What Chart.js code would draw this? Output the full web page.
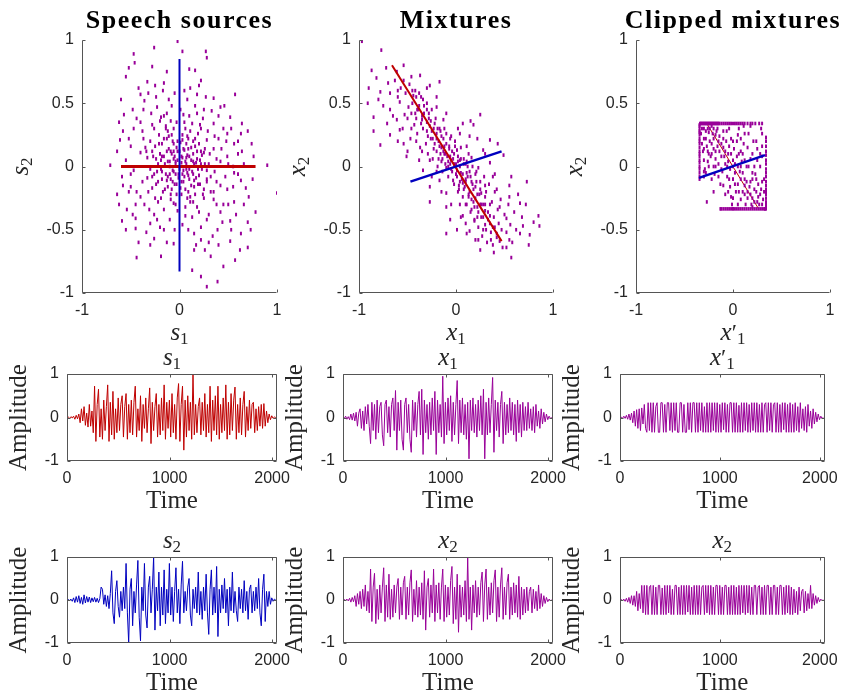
<!DOCTYPE html>
<html>
<head>
<meta charset="utf-8">
<script src="https://cdn.jsdelivr.net/npm/chart.js@4.4.1/dist/chart.umd.min.js"></script>
<style>
html, body { margin: 0; padding: 0; background: #fff; }
#fig { position: relative; width: 846px; height: 693px; }
#fig canvas { position: absolute; left: 0; top: 0; }
</style>
</head>
<body>
<div id="fig"></div>
<script>
// ---- scatter data ----
var srcCloud = [
[-0.02,0.99],[-0.47,0.89],[-0.26,0.94],[0.03,0.91],[0.27,0.91],[0.28,0.86],[-0.52,0.78],[-0.46,0.82],[-0.28,0.79],[-0.13,0.75],
[0.10,0.77],[0.16,0.76],[-0.55,0.71],[-0.33,0.67],[-0.16,0.66],[0.22,0.68],[0.11,0.62],[-0.25,0.64],[-0.40,0.57],[0.18,0.57],
[0.57,0.57],[-0.60,0.53],[-0.11,0.53],[0.08,0.53],[0.35,0.54],[0.42,0.47],[-0.23,0.47],[-0.37,0.45],[0.25,0.45],[-0.57,0.41],
[0.52,0.39],[0.64,0.34],[-0.19,0.39],[0.04,0.41],[-0.28,0.33],[-0.47,0.30],[0.21,0.33],[0.35,0.34],[-0.06,0.30],[0.11,0.28],
[0.49,0.26],[0.63,0.26],[-0.61,0.21],[-0.37,0.22],[-0.13,0.22],[0.03,0.21],[0.28,0.21],[0.40,0.22],[0.56,0.18],[0.74,0.18],
[-0.50,0.16],[-0.25,0.16],[0.16,0.16],[0.35,0.14],[0.64,0.12],[-0.64,0.12],[-0.40,0.11],[-0.09,0.12],[0.08,0.09],[0.25,0.11],
[0.49,0.08],[-0.33,0.07],[-0.19,0.05],[-0.02,0.05],[0.18,0.06],[0.42,0.04],[0.76,0.08],[-0.71,0.01],[0.90,0.01],[-0.47,-0.03],
[-0.23,-0.04],[-0.06,-0.04],[0.08,-0.05],[0.28,-0.03],[0.56,-0.05],[-0.59,-0.08],[-0.33,-0.09],[-0.13,-0.11],[0.15,-0.11],[0.38,-0.12],
[0.63,-0.11],[-0.50,-0.16],[-0.28,-0.17],[0.01,-0.17],[0.25,-0.18],[0.49,-0.18],[0.68,-0.17],[1.0,-0.21],[-0.64,-0.22],[-0.40,-0.24],
[-0.19,-0.25],[0.08,-0.25],[0.35,-0.26],[0.56,-0.28],[0.71,-0.24],[-0.54,-0.34],[-0.31,-0.34],[-0.06,-0.29],[0.18,-0.32],[0.42,-0.36],
[0.78,-0.36],[-0.45,-0.41],[-0.23,-0.42],[0.06,-0.39],[0.28,-0.42],[0.52,-0.43],[-0.59,-0.43],[-0.45,-0.49],[-0.16,-0.50],[0.15,-0.53],
[0.39,-0.50],[0.63,-0.53],[0.73,-0.50],[-0.26,-0.57],[-0.06,-0.61],[0.22,-0.58],[0.52,-0.59],[0.70,-0.64],[-0.44,-0.72],[-0.19,-0.71],
[0.15,-0.66],[0.32,-0.71],[0.57,-0.74],[0.13,-0.82],[0.45,-0.79],[0.22,-0.87],[0.39,-0.91],[0.28,-0.95],
[0.02,0.03],[-0.05,0.08],[0.10,-0.02],[-0.10,-0.06],[0.05,-0.08],[-0.03,0.15],[0.14,0.10],[-0.15,0.02],[0.07,0.18],[-0.08,-0.18],
[0.20,-0.07],[-0.20,0.10],[0.00,-0.02],[0.03,0.25],[-0.12,0.28],[0.12,-0.15],[0.30,0.02],[-0.30,-0.02],[0.22,0.30],[-0.25,-0.25],
[0.35,-0.20],[-0.40,0.35],[0.45,0.30],[-0.45,-0.30],[0.55,0.00],[-0.55,0.05],[-0.04,-0.06],[0.06,0.04],[-0.12,0.04],[0.15,0.02],
[-0.07,0.20],[0.09,-0.20],[-0.18,-0.10],[0.21,0.05],[-0.35,0.15],[0.32,-0.08],[-0.02,-0.35],[0.05,0.35],[-0.16,0.40],[0.18,0.42],
[-0.30,-0.45],[0.30,-0.60],[-0.08,0.48],[0.45,-0.30],[-0.52,-0.20],[0.60,0.20],
[-0.62,0.35],[-0.58,0.28],[-0.52,0.22],[-0.48,0.45],[-0.44,0.38],[-0.42,0.62],[-0.38,0.28],[-0.36,0.52],[-0.34,0.12],[-0.32,0.58],
[-0.30,0.20],[-0.29,0.42],[-0.27,0.08],[-0.26,0.30],[-0.24,0.55],[-0.22,0.02],[-0.21,0.25],[-0.20,0.36],[-0.18,0.18],[-0.17,0.60],
[-0.16,0.08],[-0.14,0.32],[-0.13,0.42],[-0.11,0.14],[-0.10,0.04],[-0.09,0.36],[-0.08,0.25],[-0.06,0.12],[-0.05,0.58],[-0.04,0.02],
[-0.03,0.35],[-0.02,0.20],[0.00,0.12],[0.01,0.45],[0.02,0.08],[0.04,0.14],[0.05,0.60],[0.06,0.30],[0.07,0.07],[0.09,0.22],
[0.10,0.40],[0.12,0.05],[0.13,0.34],[0.14,0.20],[0.16,0.48],[0.17,0.03],[0.19,0.26],[0.20,0.64],[0.22,0.12],[0.24,0.38],
[0.26,0.02],[0.27,0.55],[0.29,0.28],[0.31,0.10],[0.33,0.44],[0.36,0.24],[0.38,0.06],[0.40,0.40],[0.43,0.14],[0.46,0.48],
[0.48,0.20],[0.50,0.02],[0.53,0.30],[0.60,0.10],[0.66,0.02],[0.70,0.28],
[-0.62,-0.30],[-0.58,-0.15],[-0.55,-0.50],[-0.50,-0.06],[-0.48,-0.38],[-0.44,-0.20],[-0.42,-0.60],[-0.38,-0.12],[-0.36,-0.30],[-0.34,-0.52],
[-0.32,-0.20],[-0.30,-0.62],[-0.28,-0.08],[-0.26,-0.38],[-0.24,-0.14],[-0.22,-0.28],[-0.20,-0.48],[-0.18,-0.04],[-0.16,-0.34],[-0.15,-0.18],
[-0.13,-0.60],[-0.12,-0.08],[-0.10,-0.42],[-0.09,-0.26],[-0.07,-0.12],[-0.05,-0.50],[-0.04,-0.30],[-0.03,-0.14],[-0.01,-0.06],[0.02,-0.22],
[0.03,-0.46],[0.04,-0.12],[0.06,-0.32],[0.07,-0.02],[0.09,-0.50],[0.10,-0.10],[0.11,-0.28],[0.13,-0.40],[0.14,-0.06],[0.16,-0.22],
[0.17,-0.62],[0.19,-0.14],[0.20,-0.36],[0.22,-0.48],[0.23,-0.02],[0.25,-0.25],[0.26,-0.66],[0.28,-0.10],[0.30,-0.38],[0.32,-0.20],
[0.34,-0.55],[0.36,-0.04],[0.38,-0.30],[0.40,-0.62],[0.42,-0.15],[0.44,-0.44],[0.47,-0.08],[0.50,-0.30],[0.53,-0.50],[0.55,-0.16],
[0.58,-0.38],[0.60,-0.06],[0.62,-0.66],[0.66,-0.30],[0.70,-0.44],[0.75,-0.10],
[-0.24,0.06],[-0.22,-0.12],[-0.21,0.18],[-0.19,-0.02],[-0.18,0.08],[-0.17,-0.20],[-0.16,0.22],[-0.14,-0.06],[-0.13,0.12],[-0.12,-0.16],
[-0.11,0.24],[-0.10,0.00],[-0.09,-0.10],[-0.08,0.10],[-0.07,-0.03],[-0.06,0.18],[-0.05,-0.14],[-0.04,0.04],[-0.03,-0.22],[-0.02,0.12],
[-0.01,-0.09],[0.01,0.19],[0.02,-0.12],[0.03,0.07],[0.04,-0.03],[0.05,0.13],[0.06,-0.18],[0.07,0.02],[0.08,0.24],[0.09,-0.07],
[0.10,0.08],[0.11,-0.24],[0.12,0.15],[0.13,-0.04],[0.14,0.04],[0.15,-0.16],[0.16,0.22],[0.17,-0.09],[0.18,0.12],[0.19,-0.02],
[0.20,0.18],[0.21,-0.14],[0.22,0.02],[0.23,0.09],[0.24,-0.22],[-0.26,-0.06],[0.26,0.14],[-0.28,0.12],[0.28,-0.12],[0.03,-0.06],
[-0.06,0.06],[0.09,0.14],[-0.09,-0.22],[0.14,-0.28],[-0.14,0.30]
];
var srcRed = [[-0.60,0],[0.78,0]];
var srcBlue = [[0,-0.83],[0,0.85]];

var mixCloud = [
[-0.97,0.99],[-0.77,0.92],[-0.87,0.76],[-0.54,0.80],[-0.61,0.75],[-0.90,0.62],[-0.78,0.59],[-0.70,0.66],[-0.54,0.68],[-0.46,0.71],
[-0.37,0.72],[-0.27,0.64],[-0.17,0.67],[-0.91,0.50],[-0.80,0.53],[-0.68,0.45],[-0.58,0.51],[-0.49,0.47],[-0.41,0.55],[-0.34,0.53],
[-0.85,0.39],[-0.71,0.34],[-0.61,0.37],[-0.53,0.41],[-0.42,0.42],[-0.30,0.45],[-0.20,0.47],[-0.85,0.28],[-0.68,0.25],[-0.58,0.29],
[-0.46,0.30],[-0.35,0.37],[-0.27,0.32],[-0.13,0.37],[0.07,0.34],[0.25,0.41],[0.18,0.33],[-0.78,0.17],[-0.54,0.18],[-0.41,0.20],
[-0.29,0.24],[-0.20,0.26],[-0.06,0.22],[0.04,0.26],[0.14,0.24],[0.35,0.21],[-0.51,0.08],[-0.35,0.12],[-0.23,0.14],[-0.12,0.16],
[0.01,0.13],[0.11,0.16],[0.28,0.13],[0.43,0.18],[-0.27,0.05],[-0.15,0.04],[-0.06,0.08],[0.04,0.05],[0.16,0.07],[0.35,0.03],
[0.49,0.09],[-0.34,-0.03],[-0.20,-0.04],[-0.10,-0.01],[0.01,-0.03],[0.11,-0.05],[0.23,-0.01],[-0.27,-0.16],[-0.17,-0.11],[-0.03,-0.11],
[0.07,-0.13],[0.21,-0.12],[0.38,-0.08],[0.57,-0.08],[0.73,-0.12],[-0.27,-0.28],[-0.10,-0.21],[0.02,-0.20],[0.13,-0.24],[0.26,-0.21],
[0.42,-0.18],[0.55,-0.24],[-0.10,-0.32],[0.04,-0.30],[0.16,-0.34],[0.30,-0.30],[0.45,-0.32],[0.66,-0.29],[-0.06,-0.42],[0.07,-0.39],
[0.19,-0.43],[0.35,-0.39],[0.52,-0.41],[0.69,-0.47],[0.85,-0.39],[0.86,-0.47],[0.14,-0.51],[0.28,-0.50],[0.42,-0.53],[0.66,-0.53],
[0.76,-0.54],[0.23,-0.58],[0.45,-0.59],[0.55,-0.58],[0.25,-0.66],[0.39,-0.68],[0.57,-0.72],[0.01,-0.50],[-0.10,-0.53],[0.11,-0.53],
[-0.05,0.05],[0.05,-0.05],[-0.15,0.15],[0.10,-0.12],[-0.20,0.22],[0.20,-0.25],[-0.30,0.35],[0.30,-0.35],[0.00,0.02],[-0.08,0.00],
[0.08,0.02],[-0.12,0.10],[0.15,-0.08],[0.25,-0.30],[0.35,-0.45],[0.40,-0.48],[-0.40,0.45],[-0.35,0.40],[0.03,-0.15],[-0.02,0.10],
[0.12,0.00],[-0.18,0.06],[0.18,-0.18],[0.22,-0.40],[-0.25,0.28],[-0.45,0.60],[-0.60,0.60],[-0.38,0.48],[0.30,-0.15],[0.10,-0.30],
[-0.82,0.70],[-0.75,0.48],[-0.72,0.78],[-0.68,0.58],[-0.65,0.40],[-0.63,0.68],[-0.60,0.55],[-0.57,0.62],[-0.55,0.30],[-0.52,0.58],
[-0.50,0.38],[-0.48,0.65],[-0.47,0.22],[-0.45,0.50],[-0.43,0.33],[-0.42,0.60],[-0.40,0.26],[-0.39,0.45],[-0.37,0.15],[-0.36,0.55],
[-0.34,0.30],[-0.33,0.42],[-0.31,0.18],[-0.30,0.50],[-0.29,0.10],[-0.28,0.38],[-0.26,0.22],[-0.25,0.45],[-0.24,0.06],[-0.23,0.30],
[-0.22,0.18],[-0.21,0.38],[-0.19,0.00],[-0.18,0.20],[-0.17,0.30],[-0.16,0.10],[-0.15,0.24],[-0.14,-0.04],[-0.13,0.12],[-0.12,0.30],
[-0.11,0.02],[-0.10,0.18],[-0.09,0.08],[-0.08,-0.08],[-0.07,0.14],[-0.06,0.02],[-0.05,0.24],[-0.04,-0.04],[-0.03,0.06],[-0.02,-0.14],
[-0.01,0.16],[0.00,-0.06],[0.02,0.08],[0.03,-0.18],[0.04,0.00],[0.05,0.15],[0.06,-0.10],[0.07,-0.24],[0.08,0.06],[0.09,-0.16],
[0.10,0.02],[0.11,-0.30],[0.12,-0.08],[0.13,0.10],[0.14,-0.20],[0.15,-0.36],[0.16,-0.12],[0.17,0.00],[0.18,-0.28],[0.19,-0.42],
[0.20,-0.16],[0.21,-0.04],[0.22,-0.32],[0.23,-0.48],[0.24,-0.22],[0.25,-0.12],[0.26,-0.40],[0.27,-0.55],[0.28,-0.30],[0.29,-0.08],
[0.30,-0.46],[0.31,-0.20],[0.32,-0.60],[0.33,-0.36],[0.34,-0.14],[0.36,-0.52],[0.37,-0.28],[0.38,-0.62],[0.39,-0.40],[0.40,-0.20],
[0.42,-0.56],[0.43,-0.34],[0.44,-0.45],[0.46,-0.26],[0.47,-0.50],[0.48,-0.64],[0.50,-0.38],[0.52,-0.52],[0.54,-0.30],[0.56,-0.46],
[0.58,-0.60],[0.60,-0.36],[0.62,-0.50],[0.64,-0.22],[0.68,-0.40],[0.72,-0.30],[0.75,-0.62],[0.80,-0.44],
[-0.30,0.62],[-0.20,0.55],[-0.10,0.42],[0.02,0.30],[0.15,0.36],[0.22,0.22],[0.30,0.10],[0.40,-0.06],[0.55,-0.15],[-0.60,0.20],
[-0.50,0.12],[-0.38,0.05],[-0.25,-0.08],[-0.15,-0.20],[-0.05,-0.30],[0.05,-0.40],[0.10,-0.45],[0.20,-0.58],
[-0.30,0.28],[-0.28,0.42],[-0.26,0.36],[-0.24,0.22],[-0.22,0.34],[-0.20,0.12],[-0.19,0.30],[-0.17,0.16],[-0.16,0.28],[-0.14,0.06],
[-0.13,0.22],[-0.11,0.10],[-0.10,0.26],[-0.08,0.04],[-0.07,0.16],[-0.05,-0.02],[-0.04,0.12],[-0.02,0.02],[-0.01,0.20],[0.01,-0.08],
[0.02,0.04],[0.04,-0.12],[0.05,0.06],[0.07,-0.06],[0.08,-0.18],[0.10,-0.10],[0.11,0.04],[0.13,-0.22],[0.14,-0.04],[0.16,-0.26],
[0.17,-0.14],[0.19,-0.32],[0.20,-0.06],[0.22,-0.22],[0.23,-0.36],[0.25,-0.18],[0.26,-0.30],[0.28,-0.40],[0.30,-0.24],[0.31,-0.50],
[0.33,-0.42],[0.35,-0.30],[0.36,-0.58],[0.38,-0.48],[-0.33,0.48],[-0.36,0.34],[-0.38,0.58],[-0.41,0.38],[-0.44,0.56],[-0.46,0.42]
];
var mixRed = [[-0.66,0.80],[0.47,-0.59]];
var mixRedTail = [[0.52,-0.64]];
var mixBlue = [[-0.47,-0.12],[0.47,0.12]];

var clipCloud = [
[-0.34,0.34],[-0.32,0.34],[-0.30,0.34],[-0.28,0.34],[-0.25,0.34],[-0.22,0.34],[-0.20,0.34],[-0.17,0.34],[-0.14,0.34],[-0.10,0.34],
[-0.06,0.34],[-0.02,0.34],[0.02,0.34],[0.06,0.34],[0.10,0.34],[0.15,0.34],[0.20,0.34],[0.27,0.34],
[-0.33,0.34],[-0.31,0.34],[-0.29,0.34],[-0.27,0.34],[-0.26,0.34],[-0.24,0.34],[-0.23,0.34],[-0.21,0.34],[-0.19,0.34],[-0.18,0.34],
[-0.16,0.34],[-0.15,0.34],[-0.12,0.34],[-0.08,0.34],[-0.04,0.34],[0.00,0.34],[0.04,0.34],[0.08,0.34],[0.12,0.34],[0.18,0.34],
[0.23,0.34],[0.30,0.34],
[-0.345,0.30],[-0.345,0.25],[-0.345,0.20],[-0.345,0.15],[-0.345,0.10],[-0.345,0.05],[-0.345,0.00],[-0.345,-0.05],[-0.345,-0.08],
[-0.345,0.33],[-0.345,0.32],[-0.345,0.28],[-0.345,0.27],[-0.345,0.22],[-0.345,0.18],[-0.345,0.12],[-0.345,0.08],[-0.345,0.03],
[-0.345,-0.02],[-0.345,-0.10],
[-0.13,-0.335],[-0.10,-0.335],[-0.06,-0.335],[-0.02,-0.335],[0.02,-0.335],[0.06,-0.335],[0.10,-0.335],[0.14,-0.335],[0.18,-0.335],
[0.22,-0.335],[0.26,-0.335],[0.30,-0.335],[0.34,-0.335],[-0.12,-0.335],[-0.08,-0.335],[-0.04,-0.335],[0.00,-0.335],[0.04,-0.335],
[0.08,-0.335],[0.12,-0.335],[0.16,-0.335],[0.20,-0.335],[0.24,-0.335],[0.28,-0.335],[0.32,-0.335],[0.33,-0.335],
[0.34,0.20],[0.34,0.12],[0.34,0.05],[0.34,-0.02],[0.34,-0.08],[0.34,-0.15],[0.34,-0.20],[0.34,-0.25],[0.34,-0.30],
[0.34,0.23],[0.34,0.16],[0.34,0.09],[0.34,0.02],[0.34,-0.05],[0.34,-0.12],[0.34,-0.18],[0.34,-0.22],[0.34,-0.28],[0.34,-0.32],
[-0.30,0.30],[-0.28,0.22],[-0.25,0.27],[-0.22,0.18],[-0.20,0.30],[-0.18,0.12],[-0.15,0.20],[-0.12,0.08],[-0.10,0.15],[-0.08,0.02],
[-0.05,0.10],[-0.03,-0.02],[0.00,0.05],[0.02,-0.05],[0.05,0.00],[0.08,-0.10],[0.10,-0.05],[0.12,-0.15],[0.15,-0.20],[0.18,-0.12],
[0.20,-0.25],[0.22,-0.18],[0.25,-0.28],[0.28,-0.22],[0.30,-0.30],[-0.30,0.05],[-0.25,0.10],[-0.28,-0.05],[-0.20,0.00],[-0.15,-0.08],
[-0.10,-0.15],[-0.05,-0.20],[0.00,-0.25],[0.00,0.20],[0.05,0.25],[0.11,0.32],[0.15,0.15],[0.20,0.10],[0.25,0.05],[0.24,0.20],
[0.30,0.16],[0.08,0.12],[-0.27,-0.28],[0.05,-0.30],[-0.065,0.28],[-0.22,-0.10],[-0.32,0.18],[-0.18,0.25],[0.12,0.05],[0.20,-0.05],
[-0.33,0.26],[-0.31,0.12],[-0.30,0.22],[-0.29,-0.02],[-0.27,0.16],[-0.26,0.30],[-0.25,0.00],[-0.24,0.20],[-0.23,0.08],[-0.22,0.32],
[-0.21,0.26],[-0.20,0.14],[-0.19,-0.06],[-0.18,0.06],[-0.17,0.28],[-0.16,0.16],[-0.15,0.02],[-0.14,0.24],[-0.13,-0.14],[-0.12,0.18],
[-0.11,-0.04],[-0.10,0.28],[-0.09,0.08],[-0.08,-0.22],[-0.07,0.20],[-0.06,-0.08],[-0.05,0.04],[-0.04,0.16],[-0.03,-0.16],[-0.02,0.10],
[-0.01,-0.30],[0.00,-0.10],[0.01,0.14],[0.02,0.02],[0.03,-0.20],[0.04,0.08],[0.05,-0.14],[0.06,0.30],[0.07,-0.04],[0.08,-0.26],
[0.09,0.04],[0.10,-0.20],[0.11,0.18],[0.12,-0.10],[0.13,-0.30],[0.14,0.00],[0.15,-0.25],[0.16,0.26],[0.17,-0.16],[0.18,0.06],
[0.19,-0.30],[0.20,-0.10],[0.21,0.20],[0.22,-0.28],[0.23,-0.06],[0.24,-0.20],[0.25,0.14],[0.26,-0.14],[0.27,-0.30],[0.28,0.00],
[0.29,-0.18],[0.30,0.08],[0.31,-0.26],[0.32,-0.10],[0.29,0.30],[0.18,0.32],[-0.04,0.30],[-0.20,-0.20],[-0.30,-0.08],[0.08,0.22],
[-0.32,0.30],[-0.30,0.14],[-0.28,0.28],[-0.26,0.12],[-0.24,0.30],[-0.22,0.10],[-0.20,0.22],[-0.18,0.00],[-0.16,0.30],[-0.14,0.12],
[-0.12,-0.02],[-0.10,0.22],[-0.08,0.12],[-0.06,0.00],[-0.04,-0.10],[-0.02,0.22],[0.00,0.00],[0.02,-0.14],[0.04,0.20],[0.06,-0.20],
[0.08,0.00],[0.10,0.10],[0.12,-0.22],[0.14,-0.12],[0.16,0.00],[0.18,-0.22],[0.20,-0.32],[0.22,0.00],[0.24,-0.10],[0.26,-0.24],
[0.28,0.10],[0.30,-0.12],[0.32,-0.20],[-0.30,-0.04],[-0.26,0.04],[0.06,0.10],[-0.02,-0.24],[0.12,0.26],[0.30,0.26]
];
var clipRed = [[-0.27,0.34],[0.26,-0.33]];
var clipBlue = [[-0.35,-0.09],[0.33,0.09]];

// ---- time series (one value every timeStep samples) ----
var timeStep = 12.8;
var s1 = [
0,0.01,-0.02,0.02,-0.01,0.03,-0.04,0.05,-0.03,0.08,
-0.12,0.2,-0.08,0.25,-0.18,0.1,-0.22,0.3,-0.2,0.15,
-0.35,0.72,-0.55,0.3,0.65,-0.45,0.2,-0.5,0.4,-0.3,
0.25,0.75,-0.55,0.35,-0.4,0.6,-0.5,0.2,-0.35,0.45,
-0.3,0.3,0.5,-0.45,0.25,0.55,-0.5,0.3,-0.35,0.4,
-0.4,0.35,0.72,-0.45,0.2,-0.3,0.5,-0.55,0.3,-0.25,
0.45,-0.35,0.2,0.68,-0.6,0.35,-0.3,0.25,0.55,-0.45,
0.3,-0.4,0.45,-0.3,0.75,-0.5,0.35,-0.25,0.4,-0.45,
0.55,-0.35,0.3,-0.5,0.45,0.78,-0.55,0.3,0.72,-0.75,
0.4,-0.45,0.5,-0.3,0.35,-0.5,1.0,-0.4,0.3,-0.35,
0.25,0.45,-0.4,0.35,-0.3,0.55,-0.45,0.3,-0.35,0.72,
-0.55,0.4,-0.3,0.5,-0.4,0.72,-0.5,0.3,-0.35,0.45,
-0.3,0.75,-0.5,0.35,-0.4,0.55,-0.3,0.4,0.7,-0.5,
0.3,-0.35,0.45,-0.4,0.3,0.6,-0.45,0.25,-0.3,0.4,
-0.25,0.3,0.35,-0.35,0.2,-0.3,0.25,-0.2,0.3,-0.25,
0.32,-0.2,0.15,-0.12,0.08,-0.05,0.04,-0.02,0.01,0
];
var x1 = [
0,-0.02,0.03,-0.04,0.02,-0.05,0.08,-0.06,0.1,-0.08,
0.12,-0.2,0.1,0.2,-0.25,0.15,-0.3,0.25,-0.15,0.3,
-0.2,-0.6,0.35,-0.3,0.3,-0.5,0.4,-0.35,0.25,0.35,
-0.4,-0.65,0.3,0.4,-0.35,0.25,-0.45,0.3,0.45,-0.3,
0.62,-0.75,0.35,-0.3,0.4,-0.5,-0.75,0.3,0.45,-0.35,
0.3,-0.5,-0.8,0.4,-0.3,0.35,-0.45,0.3,0.6,-0.4,
0.65,-0.85,0.4,-0.35,0.3,-0.5,0.35,-0.4,0.45,-0.3,
0.6,-0.85,0.4,-0.35,0.3,-0.45,0.95,-0.6,0.35,-0.4,
0.45,-0.3,0.5,-0.55,0.35,-0.4,0.3,0.85,-0.6,0.4,
-0.35,0.45,-0.4,0.3,-0.5,0.35,-0.95,0.4,-0.3,0.45,
-0.35,0.3,-0.45,0.4,-0.3,0.5,-0.4,0.65,-0.95,0.35,
-0.4,0.45,-0.35,0.3,0.92,-0.8,0.4,-0.3,0.35,-0.45,
0.3,0.6,-0.6,0.35,-0.4,0.3,-0.35,0.45,-0.3,0.35,
-0.4,0.3,-0.55,0.4,-0.35,0.3,-0.45,0.35,-0.3,0.25,
-0.3,0.35,-0.25,0.2,-0.3,0.25,-0.35,0.3,-0.2,0.15,
-0.25,0.2,-0.15,0.12,-0.1,0.08,-0.05,0.03,-0.02,0
];
var x1c = [
0,0.01,-0.02,0.03,-0.02,0.05,-0.04,0.08,-0.06,0.1,
-0.12,0.15,-0.2,0.18,-0.25,0.2,-0.3,0.22,-0.15,0.3,
-0.25,-0.34,0.34,-0.3,0.34,-0.34,0.34,-0.34,0.25,0.34,
-0.34,-0.34,0.34,0.34,-0.34,0.3,-0.34,0.34,0.34,-0.3,
0.34,-0.34,0.34,-0.3,0.34,-0.34,-0.34,0.34,0.34,-0.34,
0.3,-0.34,-0.34,0.34,-0.28,0.34,-0.34,0.34,0.34,-0.34,
0.34,-0.34,0.34,-0.3,0.34,-0.34,0.25,-0.34,0.34,-0.34,
0.34,-0.34,0.34,-0.3,0.34,-0.34,0.34,-0.34,0.3,-0.34,
0.34,-0.28,0.34,-0.34,0.3,-0.34,0.34,0.34,-0.34,0.34,
-0.34,0.34,-0.34,0.28,-0.34,0.34,-0.34,0.34,-0.3,0.34,
-0.34,0.3,-0.34,0.34,-0.3,0.34,-0.34,0.34,-0.34,0.3,
-0.34,0.34,-0.34,0.3,0.34,-0.34,0.34,-0.3,0.34,-0.34,
0.3,0.34,-0.34,0.34,-0.34,0.3,-0.34,0.34,-0.28,0.34,
-0.34,0.3,-0.34,0.34,-0.34,0.3,-0.34,0.34,-0.3,0.25,
-0.34,0.34,-0.25,0.2,-0.3,0.25,-0.34,0.3,-0.2,0.15,
-0.25,0.2,-0.15,0.12,-0.1,0.08,-0.05,0.03,-0.02,0
];
var s2 = [
0,0.01,-0.01,0.02,-0.03,0.05,-0.06,0.08,-0.05,0.1,
-0.08,0.06,-0.1,0.12,-0.07,0.08,-0.05,0.07,-0.06,0.05,
-0.04,0.06,-0.05,0.04,-0.06,0.03,0.3,0.25,-0.1,0.12,
-0.15,0.1,-0.2,0.15,0.68,-0.3,-0.55,0.2,0.45,-0.15,
-0.4,0.2,-0.25,0.3,-0.2,0.85,-0.3,-1.0,0.25,0.5,
-0.6,0.2,-0.3,0.35,0.92,-0.4,-0.95,0.3,-0.25,0.85,
-0.35,-0.65,0.3,0.55,-0.3,0.25,1.0,-0.7,0.3,-0.25,
0.65,-0.6,0.3,-0.35,0.7,-0.55,0.25,-0.3,0.85,-0.35,
0.3,-0.5,0.2,0.75,-0.3,0.25,-0.55,0.35,0.9,-0.3,
0.2,-0.25,0.3,0.5,-0.35,-0.6,0.25,-0.2,0.3,-0.3,
0.65,-0.35,0.2,-0.45,0.3,-0.25,0.6,-0.3,-0.8,0.25,
0.7,-0.35,0.3,-0.3,0.78,-0.85,0.25,-0.3,0.35,-0.2,
0.5,-0.3,0.25,-0.6,0.3,-0.25,0.65,-0.3,0.2,-0.25,
-0.5,0.3,-0.2,0.25,-0.3,0.45,-0.25,0.2,-0.45,0.25,
0.35,-0.3,0.2,-0.25,0.3,-0.2,0.5,-0.3,-0.6,0.25,
0.6,-0.5,0.2,-0.15,0.2,-0.1,0.05,-0.03,0.02,0
];
var x2 = [
0,0.01,-0.01,0.02,-0.02,0.04,-0.05,0.06,-0.04,0.1,
-0.15,0.15,-0.1,0.2,-0.2,0.25,-0.15,0.35,-0.25,0.2,
-0.3,0.72,-0.5,0.3,0.62,-0.55,0.25,-0.45,0.35,-0.3,
0.3,0.75,-0.5,0.35,-0.4,0.6,-0.45,0.25,-0.4,0.35,
-0.3,0.3,0.5,-0.45,0.3,-0.35,0.4,0.55,-0.45,0.3,
-0.35,0.4,0.7,-0.5,0.25,-0.35,0.45,-0.4,0.3,-0.35,
0.4,-0.45,0.68,-0.7,0.3,0.5,-0.4,0.35,-0.3,0.72,
-0.5,0.35,-0.3,0.4,-0.45,0.3,0.72,-0.5,0.35,-0.4,
0.3,-0.35,0.45,0.78,-0.55,0.3,-0.45,0.6,-0.75,0.35,
-0.4,0.3,-0.35,0.45,-0.5,1.0,-0.45,0.3,-0.7,0.35,
-0.3,0.45,-0.4,0.3,-0.35,0.4,0.65,-0.5,0.35,0.72,
-0.45,0.3,-0.35,0.4,-0.3,0.45,0.7,-0.5,0.3,-0.4,
0.35,0.75,-0.45,0.3,-0.35,0.4,0.6,-0.45,0.3,-0.35,
0.4,-0.3,0.35,-0.4,0.55,-0.45,0.3,-0.35,0.25,-0.3,
0.3,-0.25,0.2,0.3,-0.3,0.25,-0.2,0.2,-0.25,0.35,
-0.2,0.15,-0.15,0.1,-0.08,0.06,-0.04,0.02,-0.01,0
];
var x2c = [
0,0.01,-0.01,0.02,-0.03,0.04,-0.05,0.06,-0.08,0.1,
-0.12,0.1,-0.15,0.2,-0.25,0.15,-0.2,0.34,-0.3,0.34,
-0.34,0.34,-0.34,0.3,0.34,-0.34,0.34,-0.34,0.3,-0.34,
0.34,0.34,-0.34,0.28,-0.34,0.34,-0.34,0.34,-0.3,0.34,
-0.34,0.25,-0.34,0.34,0.34,-0.34,0.3,-0.34,0.34,-0.34,
0.34,-0.34,0.34,-0.28,0.34,-0.34,0.3,-0.34,0.34,-0.34,
0.34,-0.34,0.34,-0.34,0.3,0.34,-0.34,0.34,-0.3,0.34,
-0.34,0.34,-0.34,0.3,-0.34,0.34,0.34,-0.34,0.34,-0.34,
0.3,-0.34,0.34,0.34,-0.34,0.3,-0.34,0.34,-0.34,0.34,
-0.34,0.3,-0.34,0.34,-0.34,0.34,-0.3,0.34,-0.34,0.34,
-0.3,0.34,-0.34,0.3,-0.34,0.34,0.34,-0.34,0.3,0.34,
-0.34,0.3,-0.34,0.34,-0.34,0.34,0.34,-0.34,0.3,-0.34,
0.34,0.34,-0.34,0.3,-0.34,0.34,0.34,-0.34,0.3,-0.34,
0.34,-0.3,0.34,-0.34,0.3,-0.34,0.25,-0.3,0.2,-0.34,
0.3,-0.25,0.2,0.25,-0.3,0.2,-0.25,0.15,-0.2,0.34,
-0.2,0.15,-0.12,0.1,-0.08,0.06,-0.04,0.02,-0.01,0
];

var scatterTicks = [-1, -0.5, 0, 0.5, 1];
var scatterXTicks = [-1, 0, 1];
var timeTicks = [0, 1000, 2000];
var ampTicks = [-1, 0, 1];

// ---- look ----
var W = 846, H = 693;
var purple = 'rgb(153,0,153)', red = 'rgb(191,0,0)', blue = 'rgb(0,0,191)';
var txtCol = '#262626', axCol = '#555555';
var serif = '"Liberation Serif", "Times New Roman", serif';

function mathFont(k) {
  if (k == 'sub') return '17px ' + serif;
  if (k == 'pr') return '24px ' + serif;
  return 'italic 25px ' + serif;
}
function sym(letter, sub, prime) {
  var p = [{t: letter, k: 'v', dy: 0}];
  if (prime) p.push({t: '\u2032', k: 'pr', dy: 0});
  p.push({t: sub, k: 'sub', dy: 4});
  return p;
}

function drawParts(ctx, parts, x, y, rot) {
  ctx.save();
  ctx.translate(x, y);
  if (rot) ctx.rotate(-Math.PI / 2);
  ctx.textAlign = 'left'; ctx.textBaseline = 'alphabetic';
  var w = 0;
  parts.forEach(function (p) { ctx.font = mathFont(p.k); w += ctx.measureText(p.t).width; });
  var cx = -w / 2;
  parts.forEach(function (p) {
    ctx.font = mathFont(p.k);
    ctx.fillText(p.t, cx, p.dy);
    cx += ctx.measureText(p.t).width;
  });
  ctx.restore();
}

function drawWord(ctx, text, font, x, y, rot, spacing) {
  ctx.save();
  ctx.translate(x, y);
  if (rot) ctx.rotate(-Math.PI / 2);
  ctx.font = font;
  if (spacing) ctx.letterSpacing = spacing + 'px';
  ctx.textAlign = 'center'; ctx.textBaseline = 'alphabetic';
  ctx.fillText(text, 0, 0);
  ctx.restore();
}

// axes lines, inward ticks and the labels, drawn like the matlab figure
var figPlugin = {
  id: 'fig',
  afterDraw: function (chart) {
    var o = chart.options.plugins.fig;
    var ctx = chart.ctx, a = chart.chartArea;
    var xs = chart.scales.x, ys = chart.scales.y;
    var l = Math.round(a.left) + 0.5, r = Math.round(a.right) - 0.5;
    var t = Math.round(a.top) + 0.5, b = Math.round(a.bottom) - 0.5;
    ctx.save();
    ctx.strokeStyle = axCol; ctx.lineWidth = 1;
    ctx.beginPath();
    ctx.moveTo(l, t); ctx.lineTo(l, b); ctx.lineTo(r, b);
    if (o.box) { ctx.lineTo(r, t); ctx.lineTo(l, t); }
    var tl = 3;
    xs.ticks.forEach(function (tk) {
      var px = Math.round(xs.getPixelForValue(tk.value)) + 0.5;
      ctx.moveTo(px, b); ctx.lineTo(px, b - tl);
      if (o.box) { ctx.moveTo(px, t); ctx.lineTo(px, t + tl); }
    });
    ys.ticks.forEach(function (tk) {
      var py = Math.round(ys.getPixelForValue(tk.value)) + 0.5;
      ctx.moveTo(l, py); ctx.lineTo(l + tl, py);
      if (o.box) { ctx.moveTo(r, py); ctx.lineTo(r - tl, py); }
    });
    ctx.stroke();

    var mid = (a.left + a.right) / 2, vmid = (a.top + a.bottom) / 2;
    ctx.fillStyle = '#000';
    if (o.title) drawWord(ctx, o.title, 'bold 26px ' + serif, mid, a.top - 12, false, 1.5);
    ctx.fillStyle = txtCol;
    if (o.titleMath) drawParts(ctx, o.titleMath, mid, a.top - 9, false);
    if (o.xMath) drawParts(ctx, o.xMath, mid, a.bottom + 47, false);
    if (o.yMath) drawParts(ctx, o.yMath, a.left - 54, vmid, true);
    if (o.xText) drawWord(ctx, o.xText, '25px ' + serif, mid, a.bottom + 47, false);
    if (o.yText) drawWord(ctx, o.yText, '25px ' + serif, a.left - 41, vmid, true);
    ctx.restore();
  }
};

function addCanvas() {
  var c = document.createElement('canvas');
  c.width = W; c.height = H;
  document.getElementById('fig').appendChild(c);
  return c;
}

function axisOpts(min, max, ticks, fit, pad) {
  return {
    type: 'linear', min: min, max: max,
    afterBuildTicks: function (s) { s.ticks = ticks.map(function (v) { return {value: v}; }); },
    afterFit: fit,
    grid: {display: false, drawTicks: false},
    border: {display: false},
    ticks: {
      padding: pad, color: txtCol, autoSkip: false, maxRotation: 0,
      font: {family: 'Liberation Sans', size: 16},
      callback: function (v) { return String(v); }
    }
  };
}

function makeChart(box, datasets, xr, xt, yr, yt, fig, yW) {
  var xH = 30;
  return new Chart(addCanvas(), {
    type: 'scatter',
    data: {datasets: datasets},
    options: {
      responsive: false, animation: false, events: [],
      layout: {padding: {left: box.l - yW, top: box.t, right: W - box.r, bottom: H - box.b - xH}},
      plugins: {legend: {display: false}, tooltip: {enabled: false}, fig: fig},
      scales: {
        x: axisOpts(xr[0], xr[1], xt, function (s) { s.height = xH; }, 8),
        y: axisOpts(yr[0], yr[1], yt, function (s) { s.width = yW; }, 8)
      }
    },
    plugins: [figPlugin]
  });
}

function pts(list) { return list.map(function (p) { return {x: p[0], y: p[1]}; }); }
function cloud(list) {
  return {data: pts(list), pointStyle: 'line', rotation: 90, pointRadius: 1.8, borderWidth: 2,
          borderColor: purple, backgroundColor: purple, order: 3};
}
function seg(list, col, w, order) {
  return {data: pts(list), showLine: true, pointRadius: 0, borderWidth: w, borderColor: col, order: order};
}
function wave(vals, col) {
  return [{data: vals.map(function (v, i) { return {x: i * timeStep, y: v}; }),
           showLine: true, pointRadius: 0, borderWidth: 1, borderColor: col}];
}

// top row: scatter plots
makeChart({l: 82, r: 277, t: 40, b: 293},
  [cloud(srcCloud), seg(srcRed, red, 3, 2), seg(srcBlue, blue, 2, 1)],
  [-1, 1], scatterXTicks, [-1, 1], scatterTicks,
  {title: 'Speech sources', xMath: sym('s', '1'), yMath: sym('s', '2')}, 50);
makeChart({l: 359, r: 553, t: 40, b: 293},
  [cloud(mixCloud), seg(mixRed, red, 2, 2), cloud(mixRedTail), seg(mixBlue, blue, 2.5, 1)],
  [-1, 1], scatterXTicks, [-1, 1], scatterTicks,
  {title: 'Mixtures', xMath: sym('x', '1'), yMath: sym('x', '2')}, 50);
makeChart({l: 636, r: 830, t: 40, b: 293},
  [cloud(clipCloud), seg(clipRed, red, 1, 4), seg(clipBlue, blue, 2.5, 1)],
  [-1, 1], scatterXTicks, [-1, 1], scatterTicks,
  {title: 'Clipped mixtures', xMath: sym('x', '1', true), yMath: sym('x', '2')}, 50);

// middle and bottom rows: waveforms
var cols = [{l: 67, r: 277}, {l: 343, r: 553}, {l: 620, r: 830}];
var rows = [{t: 374, b: 461}, {t: 557, b: 643}];
var waves = [
  [s1, red, sym('s', '1')], [x1, purple, sym('x', '1')], [x1c, purple, sym('x', '1', true)],
  [s2, blue, sym('s', '2')], [x2, purple, sym('x', '2')], [x2c, purple, sym('x', '2')]
];
waves.forEach(function (w, k) {
  var c = cols[k % 3], rw = rows[Math.floor(k / 3)];
  makeChart({l: c.l, r: c.r, t: rw.t, b: rw.b}, wave(w[0], w[1]),
    [0, 2048], timeTicks, [-1, 1], ampTicks,
    {box: true, titleMath: w[2], xText: 'Time', yText: 'Amplitude'}, 40);
});
</script>
</body>
</html>
